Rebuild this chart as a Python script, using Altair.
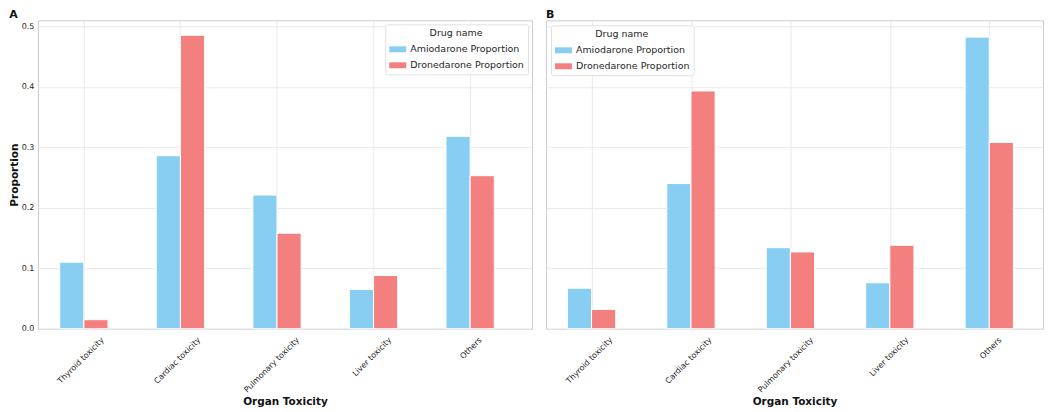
import altair as alt
import pandas as pd

categories = ["Thyroid toxicity", "Cardiac toxicity", "Pulmonary toxicity", "Liver toxicity", "Others"]
drugs = ["Amiodarone Proportion", "Dronedarone Proportion"]
colors = ["#88CEF2", "#F47F7F"]

a_amio = [0.110, 0.286, 0.221, 0.065, 0.318]
a_drone = [0.015, 0.485, 0.158, 0.088, 0.253]
b_amio = [0.067, 0.240, 0.134, 0.076, 0.482]
b_drone = [0.032, 0.393, 0.127, 0.138, 0.308]

label_shift = [16.3, 16.3, 18.4, 14.1, 7.8]


def make_df(amio, drone):
    rows = []
    for c, v in zip(categories, amio):
        rows.append({"category": c, "drug": drugs[0], "value": v})
    for c, v in zip(categories, drone):
        rows.append({"category": c, "drug": drugs[1], "value": v})
    return pd.DataFrame(rows)


def cond(vals):
    return {
        "condition": [
            {"test": f"datum.value === '{c}'", "value": v}
            for c, v in zip(categories[:-1], vals[:-1])
        ],
        "value": vals[-1],
    }


def panel(df, title, width, po, al, first, legend_orient, legend_offset):
    x_axis = alt.Axis(
        title="Organ Toxicity",
        labelAngle=315,
        labelAlign="right",
        labelBaseline="top",
        labelPadding=7,
        labelOffset=cond(label_shift),
        bandPosition=0.5,
        ticks=False,
        domain=False,
        grid=True,
    )
    if first:
        y_axis = alt.Axis(
            title="Proportion",
            values=[0, 0.1, 0.2, 0.3, 0.4, 0.5],
            format=".1f",
            ticks=False,
            domain=False,
            grid=True,
        )
    else:
        y_axis = alt.Axis(
            title=None,
            labels=False,
            values=[0, 0.1, 0.2, 0.3, 0.4, 0.5],
            ticks=False,
            domain=False,
            grid=True,
        )
    return (
        alt.Chart(df, title=alt.TitleParams(title, anchor="start", fontSize=11,
                                            fontWeight="bold", font="DejaVu Sans",
                                            offset=0, color="#111111"))
        .mark_bar(stroke="white", strokeWidth=1, opacity=1)
        .encode(
            x=alt.X("category:N", sort=categories, axis=x_axis,
                    scale=alt.Scale(paddingInner=0.5, paddingOuter=po, align=al)),
            xOffset=alt.XOffset("drug:N", sort=drugs),
            y=alt.Y("value:Q", axis=y_axis,
                    scale=alt.Scale(domain=[0, 0.5097], nice=False)),
            color=alt.Color(
                "drug:N",
                sort=drugs,
                scale=alt.Scale(domain=drugs, range=colors),
                legend=alt.Legend(
                    title="Drug name",
                    orient=legend_orient,
                    offset=legend_offset,
                    titleAnchor="middle",
                    titleFontWeight="normal",
                    titleFontSize=9.5,
                    titleFont="DejaVu Sans",
                    titleColor="#262626",
                    labelFontSize=9.5,
                    labelFont="DejaVu Sans",
                    labelColor="#262626",
                    symbolType="M-1,-0.35H1V0.35H-1Z",
                    symbolSize=289,
                    symbolStrokeWidth=0,
                    symbolOpacity=1,
                    fillColor="white",
                    strokeColor="#e0e0e0",
                    cornerRadius=2,
                    padding=4,
                    rowPadding=3,
                    titlePadding=3,
                ),
            ),
        )
        .properties(width=width, height=309)
    )


chart_a = panel(make_df(a_amio, a_drone), "A", 495, 0.308, 0.366, True, "top-right", 4)
chart_b = panel(make_df(b_amio, b_drone), "B", 498, 0.2496, 0.432, False, "top-left", 5)

chart = (
    alt.hconcat(chart_a, chart_b, spacing=12)
    .resolve_legend(color="independent")
    .resolve_scale(x="independent")
    .properties(padding=0)
    .configure_view(stroke="#cccccc", strokeWidth=1)
    .configure_axis(
        labelFont="DejaVu Sans",
        labelFontSize=8,
        labelColor="#262626",
        titleFont="DejaVu Sans",
        titleFontSize=10.5,
        titleFontWeight="bold",
        titleColor="#111111",
        gridColor="#e5e5e5",
        gridWidth=0.8,
    )
    .configure_axisY(titlePadding=2, labelPadding=4)
    .configure_axisX(titlePadding=3)
)

chart.save("out.html", embed_options={"renderer": "svg", "actions": False})
